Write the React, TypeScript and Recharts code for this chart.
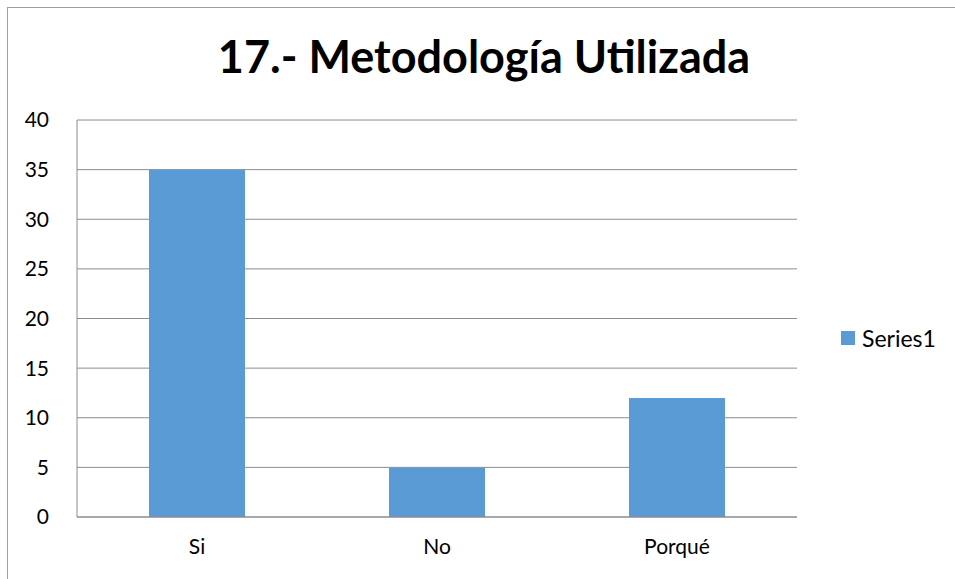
import React from 'react';
import { BarChart, Bar, XAxis, YAxis, CartesianGrid, Legend } from 'recharts';

// Respuestas de la pregunta 17
const categories: string[] = ['Si', 'No', 'Porqué'];
const series1: number[] = [35, 5, 12];
const yTicks: number[] = [0, 5, 10, 15, 20, 25, 30, 35, 40];

const data = categories.map((name, i) => ({ name, Series1: series1[i] }));

const FONT = 'Lato, "Liberation Sans", sans-serif';

const renderLegend = () => (
  <div style={{ display: 'flex', alignItems: 'center', fontFamily: FONT, fontSize: 23, color: '#000' }}>
    <span style={{ display: 'inline-block', width: 14, height: 14, background: '#5B9BD5', marginRight: 7 }} />
    Series1
  </div>
);

export default function App() {
  return (
    <div
      style={{
        position: 'fixed',
        left: 7,
        top: 7,
        right: 0,
        bottom: 0,
        background: '#fff',
        borderLeft: '1px solid #a0a0a0',
        borderTop: '1px solid #a0a0a0',
        overflow: 'hidden',
      }}
    >
      <div
        style={{
          position: 'absolute',
          left: 0,
          width: 952,
          top: 21,
          textAlign: 'center',
          fontFamily: FONT,
          fontWeight: 'bold',
          fontSize: 45,
          color: '#000',
        }}
      >
        17.- Metodología Utilizada
      </div>
      <BarChart
        width={947}
        height={571}
        data={data}
        margin={{ top: 112, right: 158, left: 0, bottom: 22 }}
      >
        <CartesianGrid vertical={false} stroke="#8c8c8c" />
        <XAxis
          dataKey="name"
          height={40}
          axisLine={{ stroke: '#8c8c8c' }}
          tickLine={false}
          tickSize={0}
          tickMargin={22}
          tick={{ fontFamily: FONT, fontSize: 21, fill: '#000' }}
        />
        <YAxis
          width={69}
          domain={[0, 40]}
          ticks={yTicks}
          interval={0}
          axisLine={{ stroke: '#8c8c8c' }}
          tickLine={false}
          tickSize={0}
          tickMargin={28}
          tick={{ fontFamily: FONT, fontSize: 21, fill: '#000' }}
        />
        <Legend
          layout="horizontal"
          align="center"
          verticalAlign="middle"
          content={renderLegend}
          wrapperStyle={{ left: 833, top: 316, width: 'auto' }}
        />
        <Bar dataKey="Series1" fill="#5B9BD5" barSize={96} isAnimationActive={false} />
      </BarChart>
    </div>
  );
}
